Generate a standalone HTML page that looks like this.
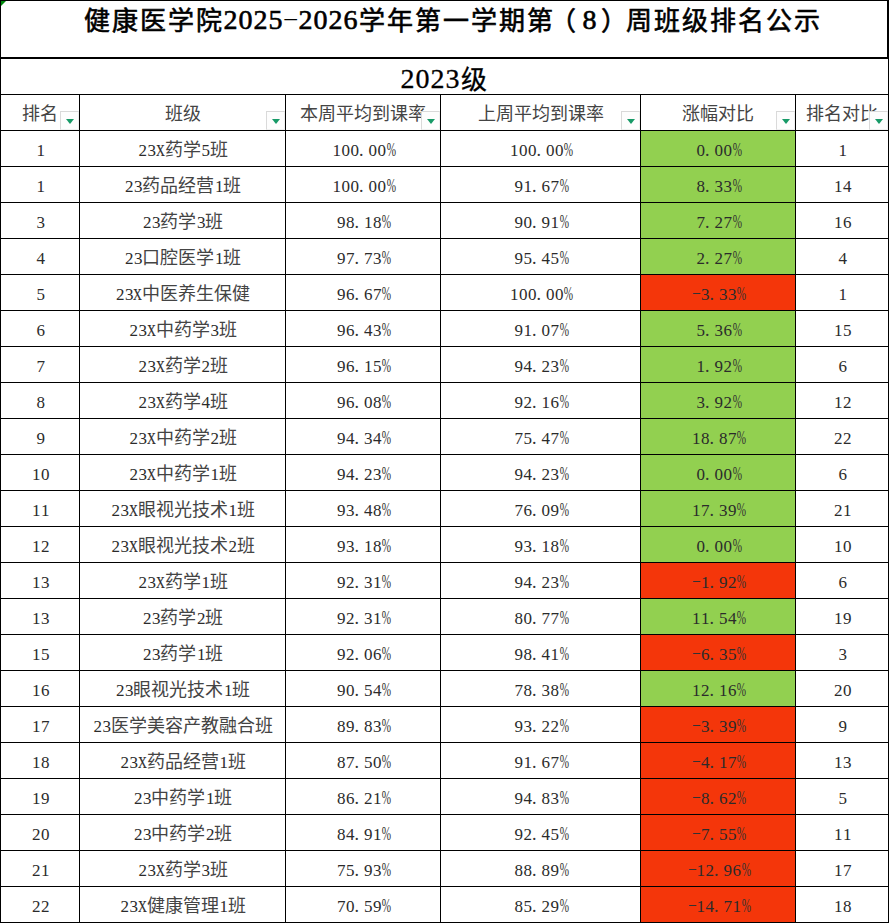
<!DOCTYPE html>
<html lang="zh-CN"><head><meta charset="utf-8"><title>健康医学院2025-2026学年第一学期第（8）周班级排名公示</title>
<style>
*{margin:0;padding:0;box-sizing:border-box}
html,body{width:889px;height:923px;overflow:hidden;background:#fff}
#s{position:relative;width:889px;height:923px;overflow:hidden;background:#fff;font-family:"Liberation Serif",serif;color:#000}
.ln{position:absolute;background:#000}
.fill{position:absolute}
.cell{position:absolute;height:35px;text-align:center;white-space:nowrap;font-size:18px;color:#333;line-height:35px;padding-top:2px}
.title{position:absolute;white-space:nowrap;font-size:28px;font-weight:bold;line-height:40px;height:40px}
.grade{position:absolute;white-space:nowrap;font-size:28px;font-weight:bold;text-align:center;line-height:35px;height:35px;padding-top:2px}
i,b{font-style:normal;font-weight:inherit;display:inline-block;text-align:center}
.f{width:1em}
.h{width:0.5em}
.hx,.hq{width:0.5em;display:inline-flex;justify-content:center}
.hp{width:0.5em;text-align:left;padding-left:0.6px}
.hx{transform:scaleX(0.68)}
.hq{transform:translateX(1px) scaleX(0.62)}
.cell .h{font-size:17px;width:9px;transform:translateX(0.7px);color:#2b2b2b}
.cell .hx{color:#2b2b2b;-webkit-text-stroke:0.2px #2b2b2b;font-size:17px;width:9px;transform:scaleX(0.72)}
.hm{width:9px;display:inline-flex;justify-content:center;transform:translate(0.8px,-2px) scale(1.55,0.75)}
.title .f,.grade .f{width:28px;font-size:26px;position:relative;top:1px}
.cell .f{font-weight:300;color:#444}
.title .h,.grade .h{width:15px;font-weight:normal;-webkit-text-stroke:0.6px #000}
.title .f{font-weight:500;-webkit-text-stroke:0.6px #000}
.grade .f{font-weight:400;-webkit-text-stroke:0.3px #000}
.grade .h{-webkit-text-stroke:0.3px #000}
.title .hm{width:15px;font-weight:normal;transform:translate(0.3px,-1px) scale(1.75,0.6)}
.fb{position:absolute;top:111px;width:19px;height:19px;background:#fdfdfd;border-top:1px solid #d9d9d9;border-left:1px solid #dadada;border-right:1px solid #efefef;border-bottom:1px solid #f0f0f0}
.tri{position:absolute;left:5px;top:7px;width:0;height:0;border-left:4px solid transparent;border-right:4px solid transparent;border-top:5px solid #179a67}
.corner{position:absolute;left:1px;top:1px;width:0;height:0;border-top:5px solid #00880c;border-right:5px solid transparent}
</style></head>
<body><div id="s">
<div class="fill" style="left:641px;top:131px;width:154px;height:35px;background:#92d050"></div>
<div class="fill" style="left:641px;top:167px;width:154px;height:35px;background:#92d050"></div>
<div class="fill" style="left:641px;top:203px;width:154px;height:35px;background:#92d050"></div>
<div class="fill" style="left:641px;top:239px;width:154px;height:35px;background:#92d050"></div>
<div class="fill" style="left:641px;top:275px;width:154px;height:35px;background:#f4360a"></div>
<div class="fill" style="left:641px;top:311px;width:154px;height:35px;background:#92d050"></div>
<div class="fill" style="left:641px;top:347px;width:154px;height:35px;background:#92d050"></div>
<div class="fill" style="left:641px;top:383px;width:154px;height:35px;background:#92d050"></div>
<div class="fill" style="left:641px;top:419px;width:154px;height:35px;background:#92d050"></div>
<div class="fill" style="left:641px;top:455px;width:154px;height:35px;background:#92d050"></div>
<div class="fill" style="left:641px;top:491px;width:154px;height:35px;background:#92d050"></div>
<div class="fill" style="left:641px;top:527px;width:154px;height:35px;background:#92d050"></div>
<div class="fill" style="left:641px;top:563px;width:154px;height:35px;background:#f4360a"></div>
<div class="fill" style="left:641px;top:599px;width:154px;height:35px;background:#92d050"></div>
<div class="fill" style="left:641px;top:635px;width:154px;height:35px;background:#f4360a"></div>
<div class="fill" style="left:641px;top:671px;width:154px;height:35px;background:#92d050"></div>
<div class="fill" style="left:641px;top:707px;width:154px;height:35px;background:#f4360a"></div>
<div class="fill" style="left:641px;top:743px;width:154px;height:35px;background:#f4360a"></div>
<div class="fill" style="left:641px;top:779px;width:154px;height:35px;background:#f4360a"></div>
<div class="fill" style="left:641px;top:815px;width:154px;height:35px;background:#f4360a"></div>
<div class="fill" style="left:641px;top:851px;width:154px;height:35px;background:#f4360a"></div>
<div class="fill" style="left:641px;top:887px;width:154px;height:35px;background:#f4360a"></div>
<div class="ln" style="left:0px;top:0px;width:889px;height:1px"></div>
<div class="ln" style="left:0px;top:57px;width:889px;height:2px"></div>
<div class="ln" style="left:0px;top:94px;width:889px;height:1px"></div>
<div class="ln" style="left:0px;top:130px;width:889px;height:1px"></div>
<div class="ln" style="left:0px;top:166px;width:889px;height:1px"></div>
<div class="ln" style="left:0px;top:202px;width:889px;height:1px"></div>
<div class="ln" style="left:0px;top:238px;width:889px;height:1px"></div>
<div class="ln" style="left:0px;top:274px;width:889px;height:1px"></div>
<div class="ln" style="left:0px;top:310px;width:889px;height:1px"></div>
<div class="ln" style="left:0px;top:346px;width:889px;height:1px"></div>
<div class="ln" style="left:0px;top:382px;width:889px;height:1px"></div>
<div class="ln" style="left:0px;top:418px;width:889px;height:1px"></div>
<div class="ln" style="left:0px;top:454px;width:889px;height:1px"></div>
<div class="ln" style="left:0px;top:490px;width:889px;height:1px"></div>
<div class="ln" style="left:0px;top:526px;width:889px;height:1px"></div>
<div class="ln" style="left:0px;top:562px;width:889px;height:1px"></div>
<div class="ln" style="left:0px;top:598px;width:889px;height:1px"></div>
<div class="ln" style="left:0px;top:634px;width:889px;height:1px"></div>
<div class="ln" style="left:0px;top:670px;width:889px;height:1px"></div>
<div class="ln" style="left:0px;top:706px;width:889px;height:1px"></div>
<div class="ln" style="left:0px;top:742px;width:889px;height:1px"></div>
<div class="ln" style="left:0px;top:778px;width:889px;height:1px"></div>
<div class="ln" style="left:0px;top:814px;width:889px;height:1px"></div>
<div class="ln" style="left:0px;top:850px;width:889px;height:1px"></div>
<div class="ln" style="left:0px;top:886px;width:889px;height:1px"></div>
<div class="ln" style="left:0px;top:922px;width:889px;height:1px"></div>
<div class="ln" style="left:0;top:0;width:1px;height:923px"></div>
<div class="ln" style="left:887px;top:0;width:2px;height:59px"></div>
<div class="ln" style="left:888px;top:59px;width:1px;height:864px"></div>
<div class="ln" style="left:79px;top:94px;width:1px;height:829px"></div>
<div class="ln" style="left:285px;top:94px;width:1px;height:829px"></div>
<div class="ln" style="left:440px;top:94px;width:1px;height:829px"></div>
<div class="ln" style="left:640px;top:94px;width:1px;height:829px"></div>
<div class="ln" style="left:795px;top:94px;width:1px;height:829px"></div>
<div class="title" style="left:83px;top:0px"><b class="f">健</b><b class="f">康</b><b class="f">医</b><b class="f">学</b><b class="f">院</b><i class="h">2</i><i class="h">0</i><i class="h">2</i><i class="h">5</i><i class="hm">-</i><i class="h">2</i><i class="h">0</i><i class="h">2</i><i class="h">6</i><b class="f">学</b><b class="f">年</b><b class="f">第</b><b class="f">一</b><b class="f">学</b><b class="f">期</b><b class="f">第</b><b class="f" style="left:-5px">（</b><i class="h">8</i><b class="f" style="left:3px">）</b><b class="f">周</b><b class="f">班</b><b class="f">级</b><b class="f">排</b><b class="f">名</b><b class="f">公</b><b class="f">示</b></div>
<div class="grade" style="left:0;width:888px;top:59px"><i class="h">2</i><i class="h">0</i><i class="h">2</i><i class="h">3</i><b class="f">级</b></div>
<div class="cell" style="left:1px;width:78px;top:95px"><b class="f">排</b><b class="f">名</b></div>
<div class="cell" style="left:80px;width:205px;top:95px"><b class="f">班</b><b class="f">级</b></div>
<div class="cell" style="left:286px;width:154px;top:95px"><b class="f">本</b><b class="f">周</b><b class="f">平</b><b class="f">均</b><b class="f">到</b><b class="f">课</b><b class="f">率</b></div>
<div class="cell" style="left:441px;width:199px;top:95px"><b class="f">上</b><b class="f">周</b><b class="f">平</b><b class="f">均</b><b class="f">到</b><b class="f">课</b><b class="f">率</b></div>
<div class="cell" style="left:641px;width:154px;top:95px"><b class="f">涨</b><b class="f">幅</b><b class="f">对</b><b class="f">比</b></div>
<div class="cell" style="left:796px;width:92px;top:95px"><b class="f">排</b><b class="f">名</b><b class="f">对</b><b class="f">比</b></div>
<div class="fb" style="left:60px"><div class="tri"></div></div>
<div class="fb" style="left:266px"><div class="tri"></div></div>
<div class="fb" style="left:421px"><div class="tri"></div></div>
<div class="fb" style="left:621px"><div class="tri"></div></div>
<div class="fb" style="left:776px"><div class="tri"></div></div>
<div class="fb" style="left:869px"><div class="tri"></div></div>
<div class="cell" style="left:1px;width:78px;top:131px"><i class="h">1</i></div>
<div class="cell" style="left:80px;width:205px;top:131px"><i class="h">2</i><i class="h">3</i><i class="hx">X</i><b class="f">药</b><b class="f">学</b><i class="h">5</i><b class="f">班</b></div>
<div class="cell" style="left:286px;width:154px;top:131px"><i class="h">1</i><i class="h">0</i><i class="h">0</i><i class="hp">.</i><i class="h">0</i><i class="h">0</i><i class="hq">%</i></div>
<div class="cell" style="left:441px;width:199px;top:131px"><i class="h">1</i><i class="h">0</i><i class="h">0</i><i class="hp">.</i><i class="h">0</i><i class="h">0</i><i class="hq">%</i></div>
<div class="cell" style="left:641px;width:154px;top:131px"><i class="h">0</i><i class="hp">.</i><i class="h">0</i><i class="h">0</i><i class="hq">%</i></div>
<div class="cell" style="left:796px;width:92px;top:131px"><i class="h">1</i></div>
<div class="cell" style="left:1px;width:78px;top:167px"><i class="h">1</i></div>
<div class="cell" style="left:80px;width:205px;top:167px"><i class="h">2</i><i class="h">3</i><b class="f">药</b><b class="f">品</b><b class="f">经</b><b class="f">营</b><i class="h">1</i><b class="f">班</b></div>
<div class="cell" style="left:286px;width:154px;top:167px"><i class="h">1</i><i class="h">0</i><i class="h">0</i><i class="hp">.</i><i class="h">0</i><i class="h">0</i><i class="hq">%</i></div>
<div class="cell" style="left:441px;width:199px;top:167px"><i class="h">9</i><i class="h">1</i><i class="hp">.</i><i class="h">6</i><i class="h">7</i><i class="hq">%</i></div>
<div class="cell" style="left:641px;width:154px;top:167px"><i class="h">8</i><i class="hp">.</i><i class="h">3</i><i class="h">3</i><i class="hq">%</i></div>
<div class="cell" style="left:796px;width:92px;top:167px"><i class="h">1</i><i class="h">4</i></div>
<div class="cell" style="left:1px;width:78px;top:203px"><i class="h">3</i></div>
<div class="cell" style="left:80px;width:205px;top:203px"><i class="h">2</i><i class="h">3</i><b class="f">药</b><b class="f">学</b><i class="h">3</i><b class="f">班</b></div>
<div class="cell" style="left:286px;width:154px;top:203px"><i class="h">9</i><i class="h">8</i><i class="hp">.</i><i class="h">1</i><i class="h">8</i><i class="hq">%</i></div>
<div class="cell" style="left:441px;width:199px;top:203px"><i class="h">9</i><i class="h">0</i><i class="hp">.</i><i class="h">9</i><i class="h">1</i><i class="hq">%</i></div>
<div class="cell" style="left:641px;width:154px;top:203px"><i class="h">7</i><i class="hp">.</i><i class="h">2</i><i class="h">7</i><i class="hq">%</i></div>
<div class="cell" style="left:796px;width:92px;top:203px"><i class="h">1</i><i class="h">6</i></div>
<div class="cell" style="left:1px;width:78px;top:239px"><i class="h">4</i></div>
<div class="cell" style="left:80px;width:205px;top:239px"><i class="h">2</i><i class="h">3</i><b class="f">口</b><b class="f">腔</b><b class="f">医</b><b class="f">学</b><i class="h">1</i><b class="f">班</b></div>
<div class="cell" style="left:286px;width:154px;top:239px"><i class="h">9</i><i class="h">7</i><i class="hp">.</i><i class="h">7</i><i class="h">3</i><i class="hq">%</i></div>
<div class="cell" style="left:441px;width:199px;top:239px"><i class="h">9</i><i class="h">5</i><i class="hp">.</i><i class="h">4</i><i class="h">5</i><i class="hq">%</i></div>
<div class="cell" style="left:641px;width:154px;top:239px"><i class="h">2</i><i class="hp">.</i><i class="h">2</i><i class="h">7</i><i class="hq">%</i></div>
<div class="cell" style="left:796px;width:92px;top:239px"><i class="h">4</i></div>
<div class="cell" style="left:1px;width:78px;top:275px"><i class="h">5</i></div>
<div class="cell" style="left:80px;width:205px;top:275px"><i class="h">2</i><i class="h">3</i><i class="hx">X</i><b class="f">中</b><b class="f">医</b><b class="f">养</b><b class="f">生</b><b class="f">保</b><b class="f">健</b></div>
<div class="cell" style="left:286px;width:154px;top:275px"><i class="h">9</i><i class="h">6</i><i class="hp">.</i><i class="h">6</i><i class="h">7</i><i class="hq">%</i></div>
<div class="cell" style="left:441px;width:199px;top:275px"><i class="h">1</i><i class="h">0</i><i class="h">0</i><i class="hp">.</i><i class="h">0</i><i class="h">0</i><i class="hq">%</i></div>
<div class="cell" style="left:641px;width:154px;top:275px"><i class="hm">-</i><i class="h">3</i><i class="hp">.</i><i class="h">3</i><i class="h">3</i><i class="hq">%</i></div>
<div class="cell" style="left:796px;width:92px;top:275px"><i class="h">1</i></div>
<div class="cell" style="left:1px;width:78px;top:311px"><i class="h">6</i></div>
<div class="cell" style="left:80px;width:205px;top:311px"><i class="h">2</i><i class="h">3</i><i class="hx">X</i><b class="f">中</b><b class="f">药</b><b class="f">学</b><i class="h">3</i><b class="f">班</b></div>
<div class="cell" style="left:286px;width:154px;top:311px"><i class="h">9</i><i class="h">6</i><i class="hp">.</i><i class="h">4</i><i class="h">3</i><i class="hq">%</i></div>
<div class="cell" style="left:441px;width:199px;top:311px"><i class="h">9</i><i class="h">1</i><i class="hp">.</i><i class="h">0</i><i class="h">7</i><i class="hq">%</i></div>
<div class="cell" style="left:641px;width:154px;top:311px"><i class="h">5</i><i class="hp">.</i><i class="h">3</i><i class="h">6</i><i class="hq">%</i></div>
<div class="cell" style="left:796px;width:92px;top:311px"><i class="h">1</i><i class="h">5</i></div>
<div class="cell" style="left:1px;width:78px;top:347px"><i class="h">7</i></div>
<div class="cell" style="left:80px;width:205px;top:347px"><i class="h">2</i><i class="h">3</i><i class="hx">X</i><b class="f">药</b><b class="f">学</b><i class="h">2</i><b class="f">班</b></div>
<div class="cell" style="left:286px;width:154px;top:347px"><i class="h">9</i><i class="h">6</i><i class="hp">.</i><i class="h">1</i><i class="h">5</i><i class="hq">%</i></div>
<div class="cell" style="left:441px;width:199px;top:347px"><i class="h">9</i><i class="h">4</i><i class="hp">.</i><i class="h">2</i><i class="h">3</i><i class="hq">%</i></div>
<div class="cell" style="left:641px;width:154px;top:347px"><i class="h">1</i><i class="hp">.</i><i class="h">9</i><i class="h">2</i><i class="hq">%</i></div>
<div class="cell" style="left:796px;width:92px;top:347px"><i class="h">6</i></div>
<div class="cell" style="left:1px;width:78px;top:383px"><i class="h">8</i></div>
<div class="cell" style="left:80px;width:205px;top:383px"><i class="h">2</i><i class="h">3</i><i class="hx">X</i><b class="f">药</b><b class="f">学</b><i class="h">4</i><b class="f">班</b></div>
<div class="cell" style="left:286px;width:154px;top:383px"><i class="h">9</i><i class="h">6</i><i class="hp">.</i><i class="h">0</i><i class="h">8</i><i class="hq">%</i></div>
<div class="cell" style="left:441px;width:199px;top:383px"><i class="h">9</i><i class="h">2</i><i class="hp">.</i><i class="h">1</i><i class="h">6</i><i class="hq">%</i></div>
<div class="cell" style="left:641px;width:154px;top:383px"><i class="h">3</i><i class="hp">.</i><i class="h">9</i><i class="h">2</i><i class="hq">%</i></div>
<div class="cell" style="left:796px;width:92px;top:383px"><i class="h">1</i><i class="h">2</i></div>
<div class="cell" style="left:1px;width:78px;top:419px"><i class="h">9</i></div>
<div class="cell" style="left:80px;width:205px;top:419px"><i class="h">2</i><i class="h">3</i><i class="hx">X</i><b class="f">中</b><b class="f">药</b><b class="f">学</b><i class="h">2</i><b class="f">班</b></div>
<div class="cell" style="left:286px;width:154px;top:419px"><i class="h">9</i><i class="h">4</i><i class="hp">.</i><i class="h">3</i><i class="h">4</i><i class="hq">%</i></div>
<div class="cell" style="left:441px;width:199px;top:419px"><i class="h">7</i><i class="h">5</i><i class="hp">.</i><i class="h">4</i><i class="h">7</i><i class="hq">%</i></div>
<div class="cell" style="left:641px;width:154px;top:419px"><i class="h">1</i><i class="h">8</i><i class="hp">.</i><i class="h">8</i><i class="h">7</i><i class="hq">%</i></div>
<div class="cell" style="left:796px;width:92px;top:419px"><i class="h">2</i><i class="h">2</i></div>
<div class="cell" style="left:1px;width:78px;top:455px"><i class="h">1</i><i class="h">0</i></div>
<div class="cell" style="left:80px;width:205px;top:455px"><i class="h">2</i><i class="h">3</i><i class="hx">X</i><b class="f">中</b><b class="f">药</b><b class="f">学</b><i class="h">1</i><b class="f">班</b></div>
<div class="cell" style="left:286px;width:154px;top:455px"><i class="h">9</i><i class="h">4</i><i class="hp">.</i><i class="h">2</i><i class="h">3</i><i class="hq">%</i></div>
<div class="cell" style="left:441px;width:199px;top:455px"><i class="h">9</i><i class="h">4</i><i class="hp">.</i><i class="h">2</i><i class="h">3</i><i class="hq">%</i></div>
<div class="cell" style="left:641px;width:154px;top:455px"><i class="h">0</i><i class="hp">.</i><i class="h">0</i><i class="h">0</i><i class="hq">%</i></div>
<div class="cell" style="left:796px;width:92px;top:455px"><i class="h">6</i></div>
<div class="cell" style="left:1px;width:78px;top:491px"><i class="h">1</i><i class="h">1</i></div>
<div class="cell" style="left:80px;width:205px;top:491px"><i class="h">2</i><i class="h">3</i><i class="hx">X</i><b class="f">眼</b><b class="f">视</b><b class="f">光</b><b class="f">技</b><b class="f">术</b><i class="h">1</i><b class="f">班</b></div>
<div class="cell" style="left:286px;width:154px;top:491px"><i class="h">9</i><i class="h">3</i><i class="hp">.</i><i class="h">4</i><i class="h">8</i><i class="hq">%</i></div>
<div class="cell" style="left:441px;width:199px;top:491px"><i class="h">7</i><i class="h">6</i><i class="hp">.</i><i class="h">0</i><i class="h">9</i><i class="hq">%</i></div>
<div class="cell" style="left:641px;width:154px;top:491px"><i class="h">1</i><i class="h">7</i><i class="hp">.</i><i class="h">3</i><i class="h">9</i><i class="hq">%</i></div>
<div class="cell" style="left:796px;width:92px;top:491px"><i class="h">2</i><i class="h">1</i></div>
<div class="cell" style="left:1px;width:78px;top:527px"><i class="h">1</i><i class="h">2</i></div>
<div class="cell" style="left:80px;width:205px;top:527px"><i class="h">2</i><i class="h">3</i><i class="hx">X</i><b class="f">眼</b><b class="f">视</b><b class="f">光</b><b class="f">技</b><b class="f">术</b><i class="h">2</i><b class="f">班</b></div>
<div class="cell" style="left:286px;width:154px;top:527px"><i class="h">9</i><i class="h">3</i><i class="hp">.</i><i class="h">1</i><i class="h">8</i><i class="hq">%</i></div>
<div class="cell" style="left:441px;width:199px;top:527px"><i class="h">9</i><i class="h">3</i><i class="hp">.</i><i class="h">1</i><i class="h">8</i><i class="hq">%</i></div>
<div class="cell" style="left:641px;width:154px;top:527px"><i class="h">0</i><i class="hp">.</i><i class="h">0</i><i class="h">0</i><i class="hq">%</i></div>
<div class="cell" style="left:796px;width:92px;top:527px"><i class="h">1</i><i class="h">0</i></div>
<div class="cell" style="left:1px;width:78px;top:563px"><i class="h">1</i><i class="h">3</i></div>
<div class="cell" style="left:80px;width:205px;top:563px"><i class="h">2</i><i class="h">3</i><i class="hx">X</i><b class="f">药</b><b class="f">学</b><i class="h">1</i><b class="f">班</b></div>
<div class="cell" style="left:286px;width:154px;top:563px"><i class="h">9</i><i class="h">2</i><i class="hp">.</i><i class="h">3</i><i class="h">1</i><i class="hq">%</i></div>
<div class="cell" style="left:441px;width:199px;top:563px"><i class="h">9</i><i class="h">4</i><i class="hp">.</i><i class="h">2</i><i class="h">3</i><i class="hq">%</i></div>
<div class="cell" style="left:641px;width:154px;top:563px"><i class="hm">-</i><i class="h">1</i><i class="hp">.</i><i class="h">9</i><i class="h">2</i><i class="hq">%</i></div>
<div class="cell" style="left:796px;width:92px;top:563px"><i class="h">6</i></div>
<div class="cell" style="left:1px;width:78px;top:599px"><i class="h">1</i><i class="h">3</i></div>
<div class="cell" style="left:80px;width:205px;top:599px"><i class="h">2</i><i class="h">3</i><b class="f">药</b><b class="f">学</b><i class="h">2</i><b class="f">班</b></div>
<div class="cell" style="left:286px;width:154px;top:599px"><i class="h">9</i><i class="h">2</i><i class="hp">.</i><i class="h">3</i><i class="h">1</i><i class="hq">%</i></div>
<div class="cell" style="left:441px;width:199px;top:599px"><i class="h">8</i><i class="h">0</i><i class="hp">.</i><i class="h">7</i><i class="h">7</i><i class="hq">%</i></div>
<div class="cell" style="left:641px;width:154px;top:599px"><i class="h">1</i><i class="h">1</i><i class="hp">.</i><i class="h">5</i><i class="h">4</i><i class="hq">%</i></div>
<div class="cell" style="left:796px;width:92px;top:599px"><i class="h">1</i><i class="h">9</i></div>
<div class="cell" style="left:1px;width:78px;top:635px"><i class="h">1</i><i class="h">5</i></div>
<div class="cell" style="left:80px;width:205px;top:635px"><i class="h">2</i><i class="h">3</i><b class="f">药</b><b class="f">学</b><i class="h">1</i><b class="f">班</b></div>
<div class="cell" style="left:286px;width:154px;top:635px"><i class="h">9</i><i class="h">2</i><i class="hp">.</i><i class="h">0</i><i class="h">6</i><i class="hq">%</i></div>
<div class="cell" style="left:441px;width:199px;top:635px"><i class="h">9</i><i class="h">8</i><i class="hp">.</i><i class="h">4</i><i class="h">1</i><i class="hq">%</i></div>
<div class="cell" style="left:641px;width:154px;top:635px"><i class="hm">-</i><i class="h">6</i><i class="hp">.</i><i class="h">3</i><i class="h">5</i><i class="hq">%</i></div>
<div class="cell" style="left:796px;width:92px;top:635px"><i class="h">3</i></div>
<div class="cell" style="left:1px;width:78px;top:671px"><i class="h">1</i><i class="h">6</i></div>
<div class="cell" style="left:80px;width:205px;top:671px"><i class="h">2</i><i class="h">3</i><b class="f">眼</b><b class="f">视</b><b class="f">光</b><b class="f">技</b><b class="f">术</b><i class="h">1</i><b class="f">班</b></div>
<div class="cell" style="left:286px;width:154px;top:671px"><i class="h">9</i><i class="h">0</i><i class="hp">.</i><i class="h">5</i><i class="h">4</i><i class="hq">%</i></div>
<div class="cell" style="left:441px;width:199px;top:671px"><i class="h">7</i><i class="h">8</i><i class="hp">.</i><i class="h">3</i><i class="h">8</i><i class="hq">%</i></div>
<div class="cell" style="left:641px;width:154px;top:671px"><i class="h">1</i><i class="h">2</i><i class="hp">.</i><i class="h">1</i><i class="h">6</i><i class="hq">%</i></div>
<div class="cell" style="left:796px;width:92px;top:671px"><i class="h">2</i><i class="h">0</i></div>
<div class="cell" style="left:1px;width:78px;top:707px"><i class="h">1</i><i class="h">7</i></div>
<div class="cell" style="left:80px;width:205px;top:707px"><i class="h">2</i><i class="h">3</i><b class="f">医</b><b class="f">学</b><b class="f">美</b><b class="f">容</b><b class="f">产</b><b class="f">教</b><b class="f">融</b><b class="f">合</b><b class="f">班</b></div>
<div class="cell" style="left:286px;width:154px;top:707px"><i class="h">8</i><i class="h">9</i><i class="hp">.</i><i class="h">8</i><i class="h">3</i><i class="hq">%</i></div>
<div class="cell" style="left:441px;width:199px;top:707px"><i class="h">9</i><i class="h">3</i><i class="hp">.</i><i class="h">2</i><i class="h">2</i><i class="hq">%</i></div>
<div class="cell" style="left:641px;width:154px;top:707px"><i class="hm">-</i><i class="h">3</i><i class="hp">.</i><i class="h">3</i><i class="h">9</i><i class="hq">%</i></div>
<div class="cell" style="left:796px;width:92px;top:707px"><i class="h">9</i></div>
<div class="cell" style="left:1px;width:78px;top:743px"><i class="h">1</i><i class="h">8</i></div>
<div class="cell" style="left:80px;width:205px;top:743px"><i class="h">2</i><i class="h">3</i><i class="hx">X</i><b class="f">药</b><b class="f">品</b><b class="f">经</b><b class="f">营</b><i class="h">1</i><b class="f">班</b></div>
<div class="cell" style="left:286px;width:154px;top:743px"><i class="h">8</i><i class="h">7</i><i class="hp">.</i><i class="h">5</i><i class="h">0</i><i class="hq">%</i></div>
<div class="cell" style="left:441px;width:199px;top:743px"><i class="h">9</i><i class="h">1</i><i class="hp">.</i><i class="h">6</i><i class="h">7</i><i class="hq">%</i></div>
<div class="cell" style="left:641px;width:154px;top:743px"><i class="hm">-</i><i class="h">4</i><i class="hp">.</i><i class="h">1</i><i class="h">7</i><i class="hq">%</i></div>
<div class="cell" style="left:796px;width:92px;top:743px"><i class="h">1</i><i class="h">3</i></div>
<div class="cell" style="left:1px;width:78px;top:779px"><i class="h">1</i><i class="h">9</i></div>
<div class="cell" style="left:80px;width:205px;top:779px"><i class="h">2</i><i class="h">3</i><b class="f">中</b><b class="f">药</b><b class="f">学</b><i class="h">1</i><b class="f">班</b></div>
<div class="cell" style="left:286px;width:154px;top:779px"><i class="h">8</i><i class="h">6</i><i class="hp">.</i><i class="h">2</i><i class="h">1</i><i class="hq">%</i></div>
<div class="cell" style="left:441px;width:199px;top:779px"><i class="h">9</i><i class="h">4</i><i class="hp">.</i><i class="h">8</i><i class="h">3</i><i class="hq">%</i></div>
<div class="cell" style="left:641px;width:154px;top:779px"><i class="hm">-</i><i class="h">8</i><i class="hp">.</i><i class="h">6</i><i class="h">2</i><i class="hq">%</i></div>
<div class="cell" style="left:796px;width:92px;top:779px"><i class="h">5</i></div>
<div class="cell" style="left:1px;width:78px;top:815px"><i class="h">2</i><i class="h">0</i></div>
<div class="cell" style="left:80px;width:205px;top:815px"><i class="h">2</i><i class="h">3</i><b class="f">中</b><b class="f">药</b><b class="f">学</b><i class="h">2</i><b class="f">班</b></div>
<div class="cell" style="left:286px;width:154px;top:815px"><i class="h">8</i><i class="h">4</i><i class="hp">.</i><i class="h">9</i><i class="h">1</i><i class="hq">%</i></div>
<div class="cell" style="left:441px;width:199px;top:815px"><i class="h">9</i><i class="h">2</i><i class="hp">.</i><i class="h">4</i><i class="h">5</i><i class="hq">%</i></div>
<div class="cell" style="left:641px;width:154px;top:815px"><i class="hm">-</i><i class="h">7</i><i class="hp">.</i><i class="h">5</i><i class="h">5</i><i class="hq">%</i></div>
<div class="cell" style="left:796px;width:92px;top:815px"><i class="h">1</i><i class="h">1</i></div>
<div class="cell" style="left:1px;width:78px;top:851px"><i class="h">2</i><i class="h">1</i></div>
<div class="cell" style="left:80px;width:205px;top:851px"><i class="h">2</i><i class="h">3</i><i class="hx">X</i><b class="f">药</b><b class="f">学</b><i class="h">3</i><b class="f">班</b></div>
<div class="cell" style="left:286px;width:154px;top:851px"><i class="h">7</i><i class="h">5</i><i class="hp">.</i><i class="h">9</i><i class="h">3</i><i class="hq">%</i></div>
<div class="cell" style="left:441px;width:199px;top:851px"><i class="h">8</i><i class="h">8</i><i class="hp">.</i><i class="h">8</i><i class="h">9</i><i class="hq">%</i></div>
<div class="cell" style="left:641px;width:154px;top:851px"><i class="hm">-</i><i class="h">1</i><i class="h">2</i><i class="hp">.</i><i class="h">9</i><i class="h">6</i><i class="hq">%</i></div>
<div class="cell" style="left:796px;width:92px;top:851px"><i class="h">1</i><i class="h">7</i></div>
<div class="cell" style="left:1px;width:78px;top:887px"><i class="h">2</i><i class="h">2</i></div>
<div class="cell" style="left:80px;width:205px;top:887px"><i class="h">2</i><i class="h">3</i><i class="hx">X</i><b class="f">健</b><b class="f">康</b><b class="f">管</b><b class="f">理</b><i class="h">1</i><b class="f">班</b></div>
<div class="cell" style="left:286px;width:154px;top:887px"><i class="h">7</i><i class="h">0</i><i class="hp">.</i><i class="h">5</i><i class="h">9</i><i class="hq">%</i></div>
<div class="cell" style="left:441px;width:199px;top:887px"><i class="h">8</i><i class="h">5</i><i class="hp">.</i><i class="h">2</i><i class="h">9</i><i class="hq">%</i></div>
<div class="cell" style="left:641px;width:154px;top:887px"><i class="hm">-</i><i class="h">1</i><i class="h">4</i><i class="hp">.</i><i class="h">7</i><i class="h">1</i><i class="hq">%</i></div>
<div class="cell" style="left:796px;width:92px;top:887px"><i class="h">1</i><i class="h">8</i></div>
<div class="corner"></div>
</div></body></html>
